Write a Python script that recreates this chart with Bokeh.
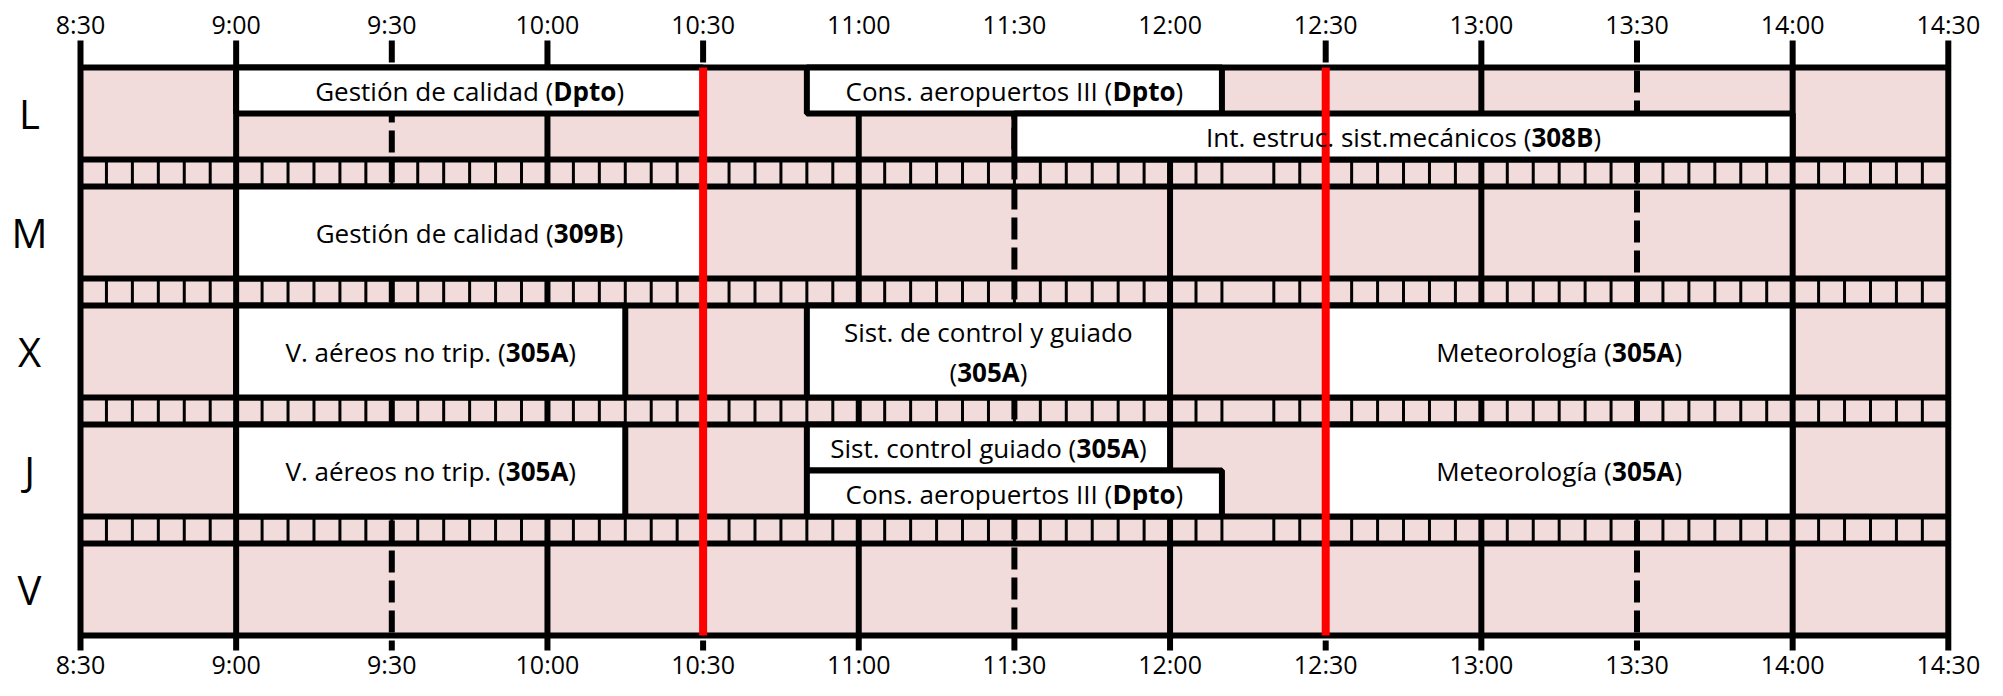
import os
import struct
from bokeh.plotting import figure
from bokeh.models import ColumnDataSource, Range1d
from bokeh.embed import file_html
from bokeh.resources import INLINE
from bokeh.core.properties import value

# ---------------- data ----------------
days = ["L", "M", "X", "J", "V"]
tick_labels = ["8:30", "9:00", "9:30", "10:00", "10:30", "11:00", "11:30",
               "12:00", "12:30", "13:00", "13:30", "14:00", "14:30"]
solid_lines = ["8:30", "9:00", "10:00", "11:00", "12:00", "13:00", "14:00", "14:30"]
dashed_lines = ["9:30", "10:30", "11:30", "12:30", "13:30"]
red_lines = ["10:30", "12:30"]
no_top_tick = ["11:00", "11:30", "12:00"]
strip_missing = ["12:15"]

cls_day = ["L", "L", "L", "M", "X", "X", "X", "J", "J", "J", "J"]
cls_start = ["9:00", "10:50", "11:30", "9:00", "9:00", "10:50", "12:30",
             "9:00", "10:50", "10:50", "12:30"]
cls_end = ["10:30", "12:10", "14:00", "10:30", "10:15", "12:00", "14:00",
           "10:15", "12:00", "12:10", "14:00"]
cls_slot = ["top", "top", "bottom", "full", "full", "full", "full",
            "full", "top", "bottom", "full"]
cls_name = ["Gestión de calidad", "Cons. aeropuertos III", "Int. estruc. sist.mecánicos",
            "Gestión de calidad", "V. aéreos no trip.", "Sist. de control y guiado",
            "Meteorología", "V. aéreos no trip.", "Sist. control guiado",
            "Cons. aeropuertos III", "Meteorología"]
cls_room = ["Dpto", "Dpto", "308B", "309B", "305A", "305A", "305A",
            "305A", "305A", "Dpto", "305A"]
cls_wrap = [False, False, False, False, False, True, False, False, False, False, False]

# ---------------- style / layout ----------------
FONT = "Open Sans"
BOX_FS = 26
TICK_FS = 25
DAY_FS = 40
PINK = "#F2DCDB"
RED = "#FF0000"
W, H = 1987, 680
PX_H = 311.3          # pixels per hour
PX_ROW = 92.0         # pixels per row
GAP = 27.0 / 92.0     # strip height in row units
X_LEFT_PX = 80.0      # 8:30 position inside canvas
Y_TOP_PX = 67.0       # top border position inside canvas


def hm(s):
    h, m = s.split(":")
    return int(h) + int(m) / 60.0


def day_top(i):
    return i * (1 + GAP)


# ---------------- font metrics (for mixed bold/normal centring) ----------------
class TTF:
    def __init__(self, path):
        d = open(path, "rb").read()
        base = 0
        if d[:4] == b"ttcf":
            base = struct.unpack(">I", d[12:16])[0]
        nt = struct.unpack(">H", d[base + 4:base + 6])[0]
        tabs = {}
        for i in range(nt):
            r = d[base + 12 + 16 * i: base + 28 + 16 * i]
            tabs[r[:4].decode("latin1")] = struct.unpack(">III", r[4:16])[1]
        u16 = lambda o: struct.unpack(">H", d[o:o + 2])[0]
        i16 = lambda o: struct.unpack(">h", d[o:o + 2])[0]
        self.upem = u16(tabs["head"] + 18)
        nh = u16(tabs["hhea"] + 34)
        hm_ = tabs["hmtx"]
        self.adv = [u16(hm_ + 4 * i) for i in range(nh)]
        cm = tabs["cmap"]
        n = u16(cm + 2)
        sub = None
        for i in range(n):
            pid = u16(cm + 4 + 8 * i)
            off = struct.unpack(">I", d[cm + 8 + 8 * i: cm + 12 + 8 * i])[0]
            if u16(cm + off) == 4 and (pid == 3 or pid == 0):
                sub = cm + off
                if pid == 3:
                    break
        self.cmap = {}
        segx2 = u16(sub + 6)
        ends = sub + 14
        starts = ends + segx2 + 2
        deltas = starts + segx2
        ranges = deltas + segx2
        for s in range(segx2 // 2):
            e, st = u16(ends + 2 * s), u16(starts + 2 * s)
            de, ro = i16(deltas + 2 * s), u16(ranges + 2 * s)
            for c in range(st, min(e, 0x2FF) + 1):
                if ro == 0:
                    g = (c + de) & 0xFFFF
                else:
                    g = u16(ranges + 2 * s + ro + 2 * (c - st))
                    if g:
                        g = (g + de) & 0xFFFF
                self.cmap[c] = g

    def width(self, s):
        tot = 0
        for ch in s:
            g = self.cmap.get(ord(ch), 0)
            tot += self.adv[min(g, len(self.adv) - 1)]
        return tot / self.upem


def load_fonts():
    files = {}
    for r in ["/usr/share/fonts", "/usr/local/share/fonts",
              os.path.expanduser("~/.fonts"), os.path.expanduser("~/.local/share/fonts")]:
        for dp, dn, fn in os.walk(r):
            for f in fn:
                files.setdefault(f.lower(), os.path.join(dp, f))
    reg = bold = None
    try:
        p = files.get("opensans-regular.ttf")
        if p is None:
            for k, v in files.items():
                if k.startswith("opensans") and k.endswith(".ttf") and "italic" not in k:
                    p = v
                    break
        if p:
            reg = TTF(p)
        pb = files.get("opensans-bold.ttf")
        if pb:
            bold = TTF(pb)
    except Exception:
        pass
    return reg, bold


REG, BOLD = load_fonts()


def text_w(s, is_bold, size):
    if is_bold:
        if BOLD is not None:
            return BOLD.width(s) * size
        if REG is not None:
            return REG.width(s) * size * 1.07
        return len(s) * size * 0.62
    if REG is not None:
        return REG.width(s) * size
    return len(s) * size * 0.55


# ---------------- figure ----------------
x0 = 8.5 - X_LEFT_PX / PX_H
x1 = x0 + W / PX_H
y_top = -Y_TOP_PX / PX_ROW
y_bot = y_top + H / PX_ROW

p = figure(width=W, height=H, x_range=Range1d(x0, x1), y_range=Range1d(y_bot, y_top),
           x_axis_type=None, y_axis_type=None, output_backend="svg",
           toolbar_location=None, min_border=0)
p.outline_line_color = None
p.background_fill_color = "white"
p.border_fill_color = "white"

t_start, t_end = hm(tick_labels[0]), hm(tick_labels[-1])
grid_bottom = day_top(len(days) - 1) + 1
tick_top = -27.0 / PX_ROW
tick_bot = grid_bottom + 15.0 / PX_ROW

# pink background
p.quad(left=[t_start], right=[t_end], top=[0], bottom=[grid_bottom],
       fill_color=PINK, line_color=None)

# strip 5-minute ticks
miss = set(hm(m) for m in strip_missing)
sx, sy0, sy1 = [], [], []
for k in range(len(days) - 1):
    for mnt in range(int(round(t_start * 60)) + 5, int(round(t_end * 60)), 5):
        t = mnt / 60.0
        if any(abs(t - m) < 1e-6 for m in miss):
            continue
        sx.append(t)
        sy0.append(day_top(k) + 1)
        sy1.append(day_top(k + 1))
p.segment(x0=sx, y0=sy0, x1=sx, y1=sy1, line_color="black", line_width=3)

# solid vertical lines
vx = [hm(s) for s in solid_lines]
vy0 = [0 if s in no_top_tick else tick_top for s in solid_lines]
p.segment(x0=vx, y0=vy0, x1=vx, y1=[tick_bot] * len(vx), line_color="black", line_width=6)

# dashed vertical lines
dx = [hm(s) for s in dashed_lines]
dy0 = [0 if s in no_top_tick else tick_top for s in dashed_lines]
p.segment(x0=dx, y0=dy0, x1=dx, y1=[tick_bot] * len(dx), line_color="black",
          line_width=6, line_dash="22 8")

# horizontal row borders
hy = []
for i in range(len(days)):
    hy += [day_top(i), day_top(i) + 1]
p.segment(x0=[t_start] * len(hy), y0=hy, x1=[t_end] * len(hy), y1=hy,
          line_color="black", line_width=6)

# class boxes
bl, br, bt, bb, cxs, cys = [], [], [], [], [], []
for i in range(len(cls_day)):
    top = day_top(days.index(cls_day[i]))
    if cls_slot[i] == "top":
        a, b = top, top + 0.5
    elif cls_slot[i] == "bottom":
        a, b = top + 0.5, top + 1
    else:
        a, b = top, top + 1
    bl.append(hm(cls_start[i]))
    br.append(hm(cls_end[i]))
    bt.append(a)
    bb.append(b)
    cxs.append((hm(cls_start[i]) + hm(cls_end[i])) / 2)
    cys.append((a + b) / 2)
p.quad(left=bl, right=br, top=bt, bottom=bb, fill_color="white",
       line_color="black", line_width=6)

# red lines
rx = [hm(s) for s in red_lines]
p.segment(x0=rx, y0=[0] * len(rx), x1=rx, y1=[grid_bottom] * len(rx),
          line_color=RED, line_width=8)

# class texts (mixed normal / bold)
norm = dict(x=[], y=[], text=[], xo=[], yo=[])
bold = dict(x=[], y=[], text=[], xo=[], yo=[])
for i in range(len(cls_day)):
    if cls_wrap[i]:
        lines = [([(cls_name[i], False)], -20),
                 ([("(", False), (cls_room[i], True), (")", False)], 20)]
    else:
        lines = [([(cls_name[i] + " (", False), (cls_room[i], True), (")", False)], 0)]
    for pieces, yo in lines:
        widths = [text_w(s, b, BOX_FS) for s, b in pieces]
        off = -sum(widths) / 2
        for (s, b), w in zip(pieces, widths):
            dst = bold if b else norm
            dst["x"].append(cxs[i])
            dst["y"].append(cys[i])
            dst["text"].append(s)
            dst["xo"].append(off)
            dst["yo"].append(yo)
            off += w
for dsrc, style in ((norm, "normal"), (bold, "bold")):
    p.text(x="x", y="y", text="text", x_offset="xo", y_offset="yo",
           source=ColumnDataSource(dsrc), text_font=value(FONT),
           text_font_size=value(f"{BOX_FS}px"), text_font_style=style,
           text_align="left", text_baseline="middle", text_color="black")

# tick labels top and bottom
tx = [hm(s) for s in tick_labels]
for ly in (-44.0 / PX_ROW, grid_bottom + 28.0 / PX_ROW):
    p.text(x=tx, y=[ly] * len(tx), text=tick_labels, text_font=value(FONT),
           text_font_size=value(f"{TICK_FS}px"), text_align="center",
           text_baseline="middle", text_color="black")

# day labels
day_x = 8.5 - 51.0 / PX_H
p.text(x=[day_x] * len(days), y=[day_top(i) + 0.5 for i in range(len(days))], text=days,
       text_font=value(FONT), text_font_size=value(f"{DAY_FS}px"), text_align="center",
       text_baseline="middle", text_color="black")

open("out.html", "w").write(file_html(p, INLINE))
